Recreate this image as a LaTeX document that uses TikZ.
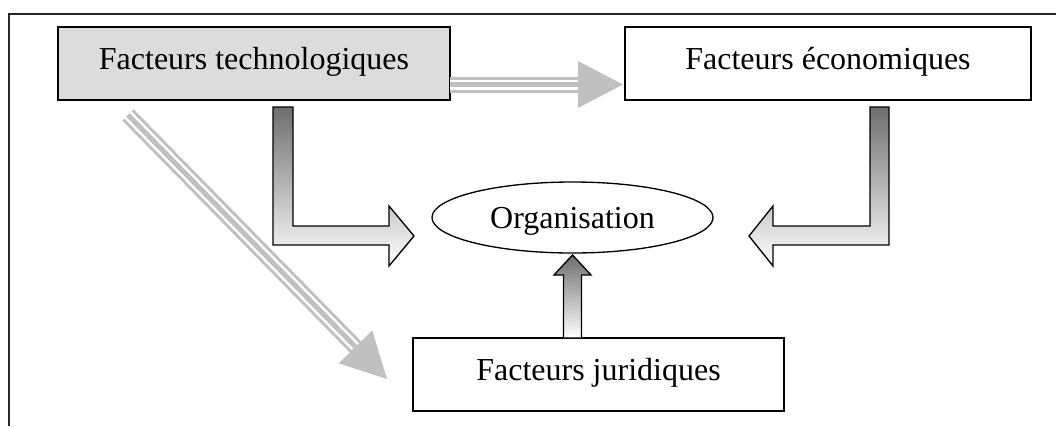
\documentclass[tikz,border=0pt]{standalone}
\usepackage{fontspec}
\setmainfont{Liberation Serif}
\usetikzlibrary{calc,shapes.geometric}
\definecolor{boxgray}{HTML}{DCDCDC}
\definecolor{arrowgray}{HTML}{C0C0C0}
\definecolor{darkshade}{HTML}{6E6E6E}
\begin{document}
\begin{tikzpicture}[x=0.75pt,y=-0.75pt,
  box/.style={draw=black,line width=1pt,rectangle,inner sep=0pt,outer sep=0pt,minimum height=54.75pt},
  lbl/.style={font=\fontsize{24}{28}\selectfont,inner sep=0pt,anchor=base},
  tripleline/.style={draw=arrowgray,line width=12pt,postaction={draw=white,line width=7.5pt},postaction={draw=arrowgray,line width=3.75pt}},
  headfill/.style={fill=arrowgray,draw=none},
  blockarrow/.style={draw=black,line width=1pt,line join=miter,top color=darkshade,bottom color=white}]
\useasboundingbox (0,0) rectangle (1056,426);
\draw[line width=1.5pt,black!85] (1056,13.5) -| (9,426);

% boxes
\node[box,fill=boxgray,minimum width=294pt] (tech) at (254,63.5) {};
\node[lbl] (techtxt) at ($(tech.center)+(0,5.5)$) {Facteurs technologiques};
\node[box,minimum width=304.5pt] (eco) at (828,63.5) {};
\node[lbl] (ecotxt) at ($(eco.center)+(0,5.5)$) {Facteurs économiques};
\node[draw,ellipse,line width=1pt,inner sep=0pt,outer sep=0pt,minimum width=210.75pt,minimum height=53.25pt] (org) at (572.5,217.5) {};
\node[lbl] (orgtxt) at ($(org.center)+(0,11)$) {Organisation};
\node[box,minimum width=278.25pt] (jur) at (598.5,374.5) {};
\node[lbl] (jurtxt) at ($(jur.center)+(0,5.5)$) {Facteurs juridiques};

% horizontal triple arrow
\coordinate (h1) at ($(tech.east)+(0,21)$);
\coordinate (h2) at ($(eco.west)+(-2,21)$);
\coordinate (hb) at ($(h2)!33.75pt!(h1)$);
\draw[tripleline] (h1) -- (hb);
\fill[headfill] (h2) -- ($(hb)!17.6pt!90:(h2)$) -- ($(hb)!17.6pt!-90:(h2)$) -- cycle;

% diagonal triple arrow
\coordinate (d1) at ($(tech.south west)+(70,15)$);
\coordinate (d2) at ($(jur.west)+(-26,4.5)$);
\coordinate (db) at ($(d2)!33.75pt!(d1)$);
\draw[tripleline] (d1) -- (db);
\fill[headfill] (d2) -- ($(db)!17.6pt!90:(d2)$) -- ($(db)!17.6pt!-90:(d2)$) -- cycle;

% left L-shaped block arrow
\draw[blockarrow] (273,107) -- (293,107) -- (293,226) -- (389,226) -- (389,206) -- (414,236) -- (389,266) -- (389,245) -- (273,245) -- cycle;
% right L-shaped block arrow
\draw[blockarrow] (889,107) -- (870,107) -- (870,226) -- (773,226) -- (773,206) -- (749,236) -- (773,266) -- (773,245) -- (889,245) -- cycle;
% up block arrow
\coordinate (uptip) at ($(org.south)+(0,2)$);
\draw[blockarrow] (563.5,338) -- (563.5,275) -- (554,275) -- (uptip) -- (591,275) -- (581.5,275) -- (581.5,338) -- cycle;
\end{tikzpicture}
\end{document}
